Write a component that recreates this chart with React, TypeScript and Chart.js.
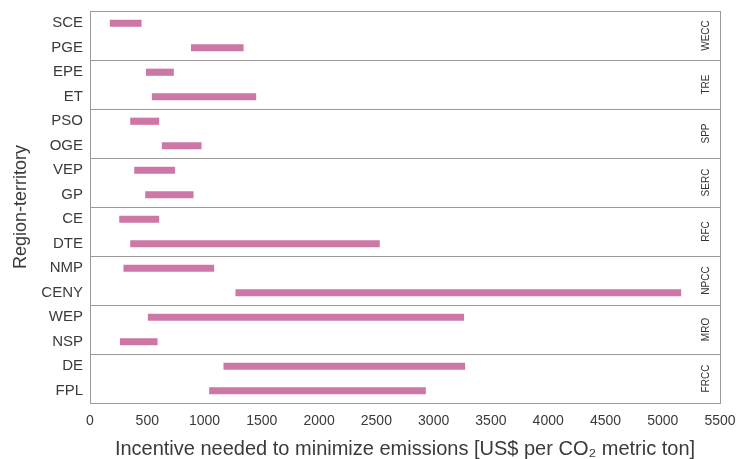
import React, { useEffect, useRef } from "react";
import { Chart, registerables } from "chart.js";

Chart.register(...registerables);

const categories = [
  "SCE", "PGE", "EPE", "ET", "PSO", "OGE", "VEP", "GP",
  "CE", "DTE", "NMP", "CENY", "WEP", "NSP", "DE", "FPL",
];
const lowValues = [
  176, 884, 491, 543, 354, 630, 389, 485,
  258, 354, 295, 1273, 508, 264, 1168, 1043,
];
const highValues = [
  447, 1338, 729, 1448, 601, 971, 740, 901,
  601, 2527, 1081, 5158, 3263, 587, 3272, 2929,
];
const regions = ["WECC", "TRE", "SPP", "SERC", "RFC", "NPCC", "MRO", "FRCC"];

const FONT = "'Liberation Sans', Arial, Helvetica, sans-serif";
const TEXT = "#3a3a3a";
const LINE = "#9a9a9a";
const BAR = "#cd77a7";

const facetPlugin = {
  id: "facetPlugin",
  afterDraw(chart: any) {
    const { ctx, chartArea, scales } = chart;
    const y = scales.y;
    ctx.save();
    ctx.strokeStyle = LINE;
    ctx.lineWidth = 1;
    ctx.strokeRect(
      Math.round(chartArea.left) + 0.5,
      Math.round(chartArea.top) + 0.5,
      Math.round(chartArea.right - chartArea.left),
      Math.round(chartArea.bottom - chartArea.top)
    );
    ctx.fillStyle = "#333";
    ctx.font = `10px ${FONT}`;
    ctx.textAlign = "center";
    ctx.textBaseline = "middle";
    regions.forEach((r, i) => {
      const yc = (y.getPixelForValue(2 * i) + y.getPixelForValue(2 * i + 1)) / 2;
      ctx.save();
      ctx.translate(chartArea.right - 14, yc);
      ctx.rotate(-Math.PI / 2);
      ctx.fillText(r, 0, 0);
      ctx.restore();
    });
    ctx.restore();
  },
};

export default function App() {
  const ref = useRef<HTMLCanvasElement | null>(null);
  useEffect(() => {
    if (!ref.current) return;
    const chart = new Chart(ref.current, {
      type: "bar",
      data: {
        labels: categories,
        datasets: [
          {
            data: categories.map((_, i) => [lowValues[i], highValues[i]]),
            backgroundColor: BAR,
            borderWidth: 0,
            barThickness: 6.5,
            borderSkipped: false,
          },
        ],
      },
      options: {
        indexAxis: "y",
        animation: false,
        responsive: false,
        maintainAspectRatio: false,
        layout: { padding: { left: 0, right: 17, top: 11, bottom: 0 } },
        plugins: { legend: { display: false }, tooltip: { enabled: false } },
        scales: {
          x: {
            type: "linear",
            min: 0,
            max: 5500,
            afterFit: (s: any) => {
              s.height = 56;
              s.paddingLeft = 0;
              s.paddingRight = 0;
            },
            grid: { display: false, drawTicks: false },
            border: { display: false },
            ticks: {
              stepSize: 500,
              padding: 10,
              color: TEXT,
              font: { family: FONT, size: 14 },
              callback: (v: any) => String(v),
              maxRotation: 0,
            },
            title: {
              display: true,
              text: "Incentive needed to minimize emissions [US$ per CO\u2082 metric ton]",
              color: TEXT,
              font: { family: FONT, size: 20, lineHeight: 1 },
              padding: { top: 0, bottom: 0 },
            },
          },
          y: {
            type: "category",
            offset: true,
            afterFit: (s: any) => {
              s.width = 90;
              s.paddingTop = 0;
              s.paddingBottom = 0;
            },
            grid: {
              offset: true,
              drawTicks: false,
              color: (c: any) =>
                typeof c.index === "number" && c.index % 2 === 0 ? LINE : "rgba(0,0,0,0)",
              lineWidth: 1,
            },
            border: { display: false },
            ticks: {
              padding: 7,
              color: TEXT,
              font: { family: FONT, size: 15 },
            },
            title: {
              display: true,
              text: "Region-territory",
              color: TEXT,
              font: { family: FONT, size: 18 },
              padding: { top: 10, bottom: 0 },
            },
          },
        },
      },
      plugins: [facetPlugin],
    } as any);
    return () => chart.destroy();
  }, []);
  return (
    <div style={{ position: "absolute", left: 0, top: 0, width: 737, height: 459, background: "#fff" }}>
      <canvas ref={ref} width={737} height={459} style={{ width: 737, height: 459 }} />
    </div>
  );
}
